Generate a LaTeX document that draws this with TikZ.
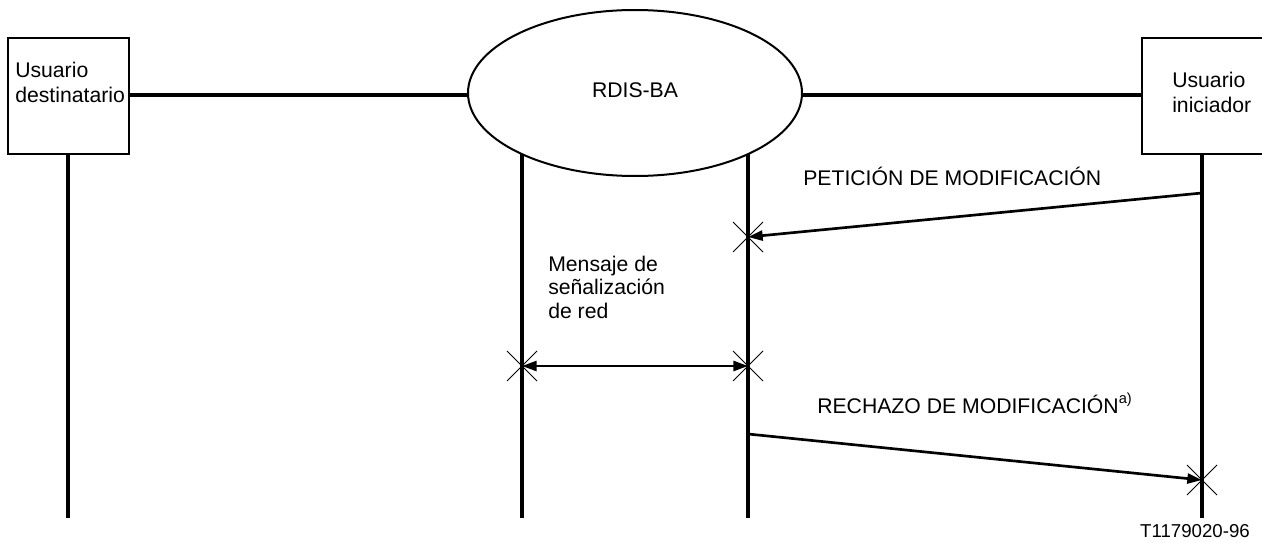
\documentclass[tikz,border=0pt]{standalone}
\usepackage{fontspec}
\setmainfont{Liberation Sans}
\usetikzlibrary{shapes.geometric,arrows.meta}
\begin{document}
\begin{tikzpicture}[x=0.75pt,y=-0.75pt,
  boxnode/.style={draw,line width=1.5pt,minimum width=90.75pt,minimum height=87pt,inner sep=0pt},
  life/.style={line width=2.6pt},
  msg/.style={line width=2pt,-{Triangle[length=11pt,width=7.5pt]}},
  dmsg/.style={line width=2pt,{Triangle[length=11pt,width=7.5pt]}-{Triangle[length=11pt,width=7.5pt]}},
  crossline/.style={line width=0.7pt},
  txt/.style={font=\fontsize{15.9}{18.75}\selectfont,inner sep=0pt,align=left}]
\useasboundingbox (0,0) rectangle (1262,542);
% boxes
\node[boxnode,anchor=north west] (lbox) at (7,37) {};
\node[boxnode,anchor=north west] (rbox) at (1141,37) {};
\node[txt,anchor=base west] (ltxt) at (15,103) {Usuario\\destinatario};
\node[txt,anchor=base west] (rtxt) at (1172,112) {Usuario\\iniciador};
% lifelines coordinates
\coordinate (lbot) at (68,518);
\coordinate (n1top) at (522,93);
\coordinate (n1bot) at (522,518);
\coordinate (n2top) at (748,93);
\coordinate (n2bot) at (748,518);
\coordinate (rbot) at (1202,518);
\draw[life] (lbox.south -| lbot) -- (lbot);
\draw[life] (n1top) -- (n1bot);
\draw[life] (n2top) -- (n2bot);
\draw[life] (rbox.south -| rbot) -- (rbot);
% ellipse
\node[ellipse,draw,fill=white,line width=1.5pt,minimum width=250.5pt,minimum height=124.5pt,inner sep=0pt] (ell) at (635,93) {};
\node[txt] (etxt) at (635,90) {RDIS-BA};
% horizontal links
\coordinate (hl) at (0,95);
\draw[life] (lbox.east |- hl) -- (ell.west |- hl);
\draw[life] (ell.east |- hl) -- (rbox.west |- hl);
% messages
\coordinate (p1s) at (1202,193);
\coordinate (p1e) at (748,237);
\draw[msg] (p1s) -- (p1e);
\node[txt,anchor=base west] (p1t) at (803,185) {PETICIÓN DE MODIFICACIÓN};
\coordinate (m1) at (522,366);
\coordinate (m2) at (748,366);
\draw[dmsg] (m1) -- (m2);
\node[txt,anchor=base west,font=\fontsize{15.9}{17.4}\selectfont] (mt) at (548,318) {Mensaje de\\señalización\\de red};
\coordinate (r1s) at (748,434);
\coordinate (r1e) at (1202,480);
\draw[msg] (r1s) -- (r1e);
\node[txt,anchor=base west] (r1t) at (817,413) {RECHAZO DE MODIFICACIÓN\raisebox{7pt}{\fontsize{11}{12}\selectfont a)}};
% crosses
\foreach \c in {p1e,m1,m2,r1e}{
  \draw[crossline] ([shift={(-15,-15)}]\c) -- ([shift={(15,15)}]\c);
  \draw[crossline] ([shift={(-15,15)}]\c) -- ([shift={(15,-15)}]\c);
}
\node[font=\fontsize{14}{16}\selectfont,anchor=base,inner sep=0pt] (tag) at (1195,537) {T1179020-96};
\end{tikzpicture}
\end{document}
